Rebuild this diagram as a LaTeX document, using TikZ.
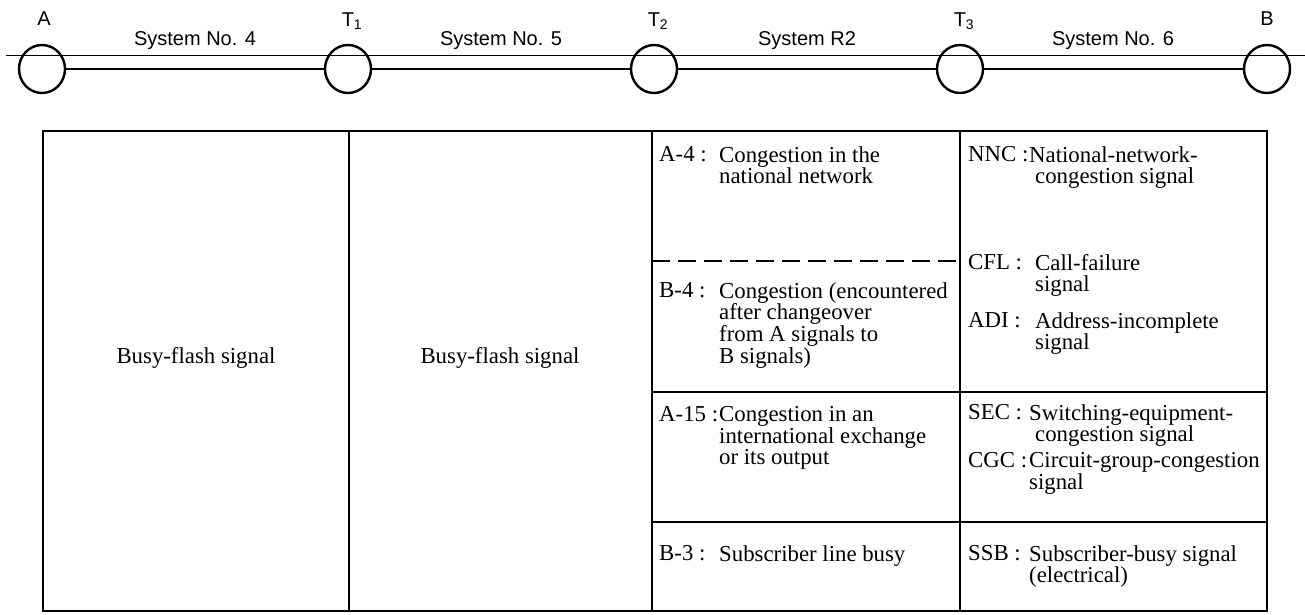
\documentclass[tikz,border=0pt]{standalone}
\usepackage{fontspec}
\setmainfont{Liberation Serif}
\newfontfamily\sansfont{Liberation Sans}
\usetikzlibrary{shapes.geometric}
\begin{document}
\begin{tikzpicture}[x=1pt,y=-1pt,
  station/.style={draw, ellipse, line width=2.4pt, minimum width=46pt, minimum height=48pt, inner sep=0pt},
  linkline/.style={line width=2.4pt},
  refline/.style={line width=0.9pt},
  tableline/.style={line width=1.4pt},
  sepline/.style={line width=1.2pt, dash pattern=on 18pt off 8pt},
  toplabel/.style={font=\sansfont\fontsize{20}{24}\selectfont, inner sep=0pt},
  syslabel/.style={toplabel, anchor=base},
  cell/.style={anchor=north west, inner sep=0pt, align=left, font=\fontsize{22.8}{21.7}\selectfont},
  abbrev/.style={anchor=base west, inner sep=0pt, font=\fontsize{22.8}{21.7}\selectfont},
  bigcell/.style={inner sep=0pt, font=\fontsize{22.8}{24}\selectfont},
]
\useasboundingbox (0,0) rectangle (1305,614);

% reference line
\coordinate (refL) at (6,55);
\coordinate (refR) at (1305,55);
\draw[refline] (refL) -- (refR);

% stations
\node[station] (A)  at (42,69)   {};
\node[station] (T1) at (348,69)  {};
\node[station] (T2) at (654,69)  {};
\node[station] (T3) at (960,69)  {};
\node[station] (B)  at (1267,69) {};
\draw[linkline] (A) -- (T1) -- (T2) -- (T3) -- (B);

% station labels
\node[toplabel] (lA)  at (44,19)   {A};
\node[toplabel] (lT1) at (352,21)  {T\textsubscript{1}};
\node[toplabel] (lT2) at (658,21)  {T\textsubscript{2}};
\node[toplabel] (lT3) at (964,21)  {T\textsubscript{3}};
\node[toplabel] (lB)  at (1267,19) {B};

% system labels
\node[syslabel] (s4)  at (195,45)  {System No. 4};
\node[syslabel] (s5)  at (501,45)  {System No. 5};
\node[syslabel] (sR2) at (807,45)  {System R2};
\node[syslabel] (s6)  at (1113,45) {System No. 6};

% table frame
\coordinate (tTL) at (43,131);
\coordinate (tBR) at (1267,611);
\draw[tableline] (tTL) rectangle (tBR);
\coordinate (c1t) at (349,131);  \coordinate (c1b) at (349,611);
\coordinate (c2t) at (652,131);  \coordinate (c2b) at (652,611);
\coordinate (c3t) at (960,131);  \coordinate (c3b) at (960,611);
\draw[tableline] (c1t) -- (c1b);
\draw[tableline] (c2t) -- (c2b);
\draw[tableline] (c3t) -- (c3b);
\coordinate (r1l) at (652,392);  \coordinate (r1r) at (1267,392);
\coordinate (r2l) at (652,522);  \coordinate (r2r) at (1267,522);
\draw[tableline] (r1l) -- (r1r);
\draw[tableline] (r2l) -- (r2r);
\coordinate (dl) at (652,261);   \coordinate (dr) at (960,261);
\draw[sepline] (dl) -- (dr);

% columns 1 and 2
\node[bigcell] (bf1) at (196,358) {Busy-flash signal};
\node[bigcell] (bf2) at (500,358) {Busy-flash signal};

% column 3
\node[abbrev] (kA4)  at (659,161.6) {A-4 :};
\node[cell]   (tA4)  at (719,146)   {Congestion in the\\national network};
\node[abbrev] (kB4)  at (659,297.6) {B-4 :};
\node[cell]   (tB4)  at (719,282)   {Congestion (encountered\\after changeover\\from A signals to\\B signals)};
\node[abbrev] (kA15) at (659,421.6) {A-15 :};
\node[cell]   (tA15) at (719,406)   {Congestion in an\\international exchange\\or its output};
\node[abbrev] (kB3)  at (659,560.6) {B-3 :};
\node[cell]   (tB3)  at (719,545)   {Subscriber line busy};

% column 4
\node[abbrev] (kNNC) at (968,161.6) {NNC :};
\node[cell]   (tNNC) at (1029,146)  {National-network-\\\hspace*{6pt}congestion signal};
\node[abbrev] (kCFL) at (968,269.6) {CFL :};
\node[cell]   (tCFL) at (1035,254)  {Call-failure\\signal};
\node[abbrev] (kADI) at (968,327.6) {ADI :};
\node[cell]   (tADI) at (1035,312)  {Address-incomplete\\signal};
\node[abbrev] (kSEC) at (968,419.6) {SEC :};
\node[cell]   (tSEC) at (1029,404)  {Switching-equipment-\\\hspace*{6pt}congestion signal};
\node[abbrev] (kCGC) at (968,467.6) {CGC :};
\node[cell]   (tCGC) at (1029,452)  {Circuit-group-congestion\\signal};
\node[abbrev] (kSSB) at (968,560.6) {SSB :};
\node[cell]   (tSSB) at (1029,545)  {Subscriber-busy signal\\(electrical)};
\end{tikzpicture}
\end{document}
